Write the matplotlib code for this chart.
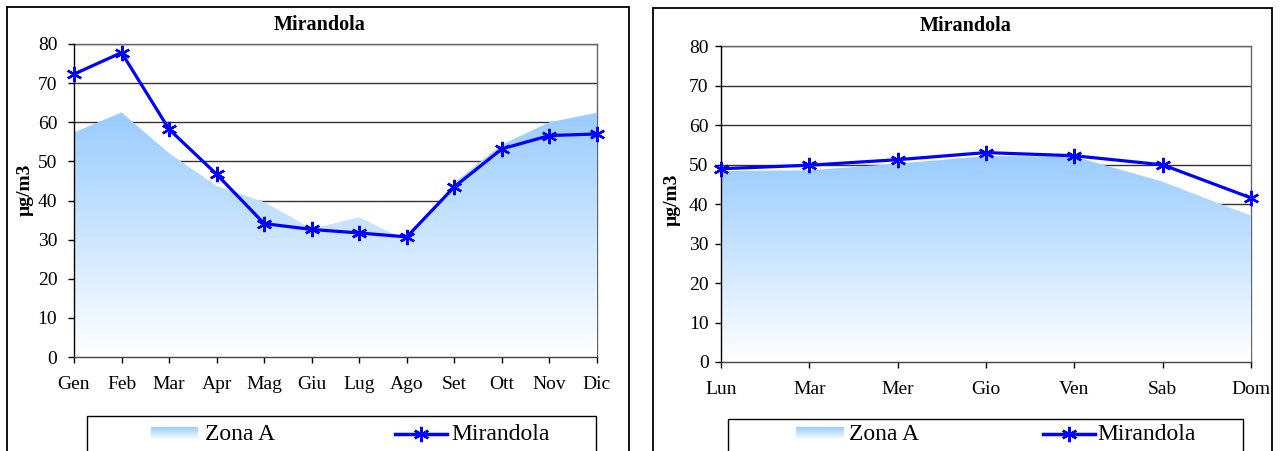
import numpy as np
import matplotlib
matplotlib.use("Agg")
import matplotlib.pyplot as plt
from matplotlib.patches import Rectangle
from matplotlib.lines import Line2D

plt.rcParams['font.family'] = ['Liberation Serif', 'DejaVu Serif']

# ---------------- data ----------------
months = ["Gen", "Feb", "Mar", "Apr", "Mag", "Giu", "Lug", "Ago", "Set", "Ott", "Nov", "Dic"]
zona_a_month = [57.4, 62.5, 52.1, 43.7, 39.6, 32.8, 35.7, 29.8, 44.6, 54.3, 60.0, 62.4]
mirandola_month = [72.3, 77.8, 58.2, 46.7, 34.1, 32.6, 31.7, 30.7, 43.5, 53.2, 56.6, 57.0]

days = ["Lun", "Mar", "Mer", "Gio", "Ven", "Sab", "Dom"]
zona_a_day = [48.4, 48.6, 50.3, 52.2, 52.1, 45.7, 37.1]
mirandola_day = [49.0, 49.9, 51.3, 53.1, 52.3, 50.0, 41.6]

title = "Mirandola"
ylabel = "µg/m3"
yticks = [0, 10, 20, 30, 40, 50, 60, 70, 80]

W, H = 1280, 451
fig = plt.figure(figsize=(W / 100, H / 100), dpi=100)

TOP_COL = np.array([153, 204, 255]) / 255.0
BLUE = (0, 0, 1)
MARK = (6, 2, 0)


def fx(px):
    return px / W


def fy(py):
    return 1 - py / H


def gradient_img(n=256):
    t = np.linspace(0, 1, n)[:, None]
    img = (1 - t) * np.ones(3) + t * TOP_COL
    return img[:, None, :]


def panel(x0, x1, y0, y1, cats, area, line, ypad):
    ax = fig.add_axes([fx(x0), fy(y1), fx(x1 - x0), (y1 - y0) / H])
    xs = np.arange(len(cats))
    for y in yticks[1:]:
        ax.axhline(y, color="#333333", lw=1.0, zorder=0.5)
    poly = ax.fill_between(xs, 0, area, facecolor="none", edgecolor="none", zorder=1)
    top = max(area)
    im = ax.imshow(gradient_img(), extent=[0, len(cats) - 1, 0, top], origin="lower",
                   aspect="auto", zorder=1, interpolation="bilinear")
    im.set_clip_path(poly.get_paths()[0], transform=ax.transData)
    ax.set_ylim(0, 80)
    ax.set_xlim(0, len(cats) - 1)
    ax.set_yticks(yticks)
    ax.set_xticks(xs)
    ax.set_xticklabels(cats)
    ax.plot(xs, line, color=BLUE, lw=2.3, marker=MARK, ms=11, mew=1.7,
            mec=BLUE, zorder=4, clip_on=False)
    for s in ["top", "right"]:
        ax.spines[s].set_color("#666666")
        ax.spines[s].set_linewidth(1.0)
        ax.spines[s].set_zorder(0.6)
    ax.spines["left"].set_color("black")
    ax.spines["bottom"].set_color("#444444")
    ax.spines["left"].set_linewidth(1.0)
    ax.spines["bottom"].set_linewidth(1.0)
    ax.tick_params(axis="y", length=4, width=1, pad=ypad, labelsize=14, colors="black")
    ax.tick_params(axis="x", length=4, width=1, pad=10, labelsize=14, colors="black")
    ax.set_facecolor("white")
    return ax


def legend_box(bx0, bx1, by0, sw0, sw1, line0, line1, txt1_x, txt2_x):
    rect = Rectangle((fx(bx0), fy(H + 5)), fx(bx1 - bx0), (H + 5 - by0) / H,
                     transform=fig.transFigure, fill=False, edgecolor="black", lw=1.0)
    fig.patches.append(rect)
    cy = 434
    sax = fig.add_axes([fx(sw0), fy(440), fx(sw1 - sw0), 13 / H])
    sax.imshow(gradient_img()[::-1], aspect="auto", extent=[0, 1, 0, 1])
    sax.axis("off")
    fig.text(fx(txt1_x), fy(cy), "Zona A", fontsize=17, va="center", ha="left")
    ln = Line2D([fx(line0), fx(line1)], [fy(cy), fy(cy)], transform=fig.transFigure,
                color=BLUE, lw=2.5)
    fig.lines.append(ln)
    mk = Line2D([fx((line0 + line1) / 2)], [fy(cy)], transform=fig.transFigure,
                color=BLUE, lw=0, marker=MARK, ms=11, mew=1.7)
    fig.lines.append(mk)
    fig.text(fx(txt2_x), fy(cy), "Mirandola", fontsize=17, va="center", ha="left")


# outer panel borders
for (a, b, c) in [(7, 629, 7), (653, 1272, 8)]:
    fig.patches.append(Rectangle((fx(a), fy(H + 5)), fx(b - a), (H + 5 - c) / H,
                                 transform=fig.transFigure, fill=False,
                                 edgecolor="black", lw=1.3))

panel(74, 597, 44, 357, months, zona_a_month, mirandola_month, ypad=8)
panel(721, 1251, 46.5, 362, days, zona_a_day, mirandola_day, ypad=5)

fig.text(fx(320), fy(25), title, fontsize=14.5, fontweight="bold", ha="center", va="center")
fig.text(fx(966), fy(26), title, fontsize=14.5, fontweight="bold", ha="center", va="center")
fig.text(fx(25), fy(190), ylabel, fontsize=14, fontweight="bold", rotation=90,
         ha="center", va="center")
fig.text(fx(672), fy(200), ylabel, fontsize=14, fontweight="bold", rotation=90,
         ha="center", va="center")

legend_box(87, 596, 416, 151, 198, 395, 447, 205, 451)
legend_box(728, 1243, 419, 796, 844, 1043, 1095, 849, 1097)

fig.savefig("out.png", dpi=100, facecolor="white")
